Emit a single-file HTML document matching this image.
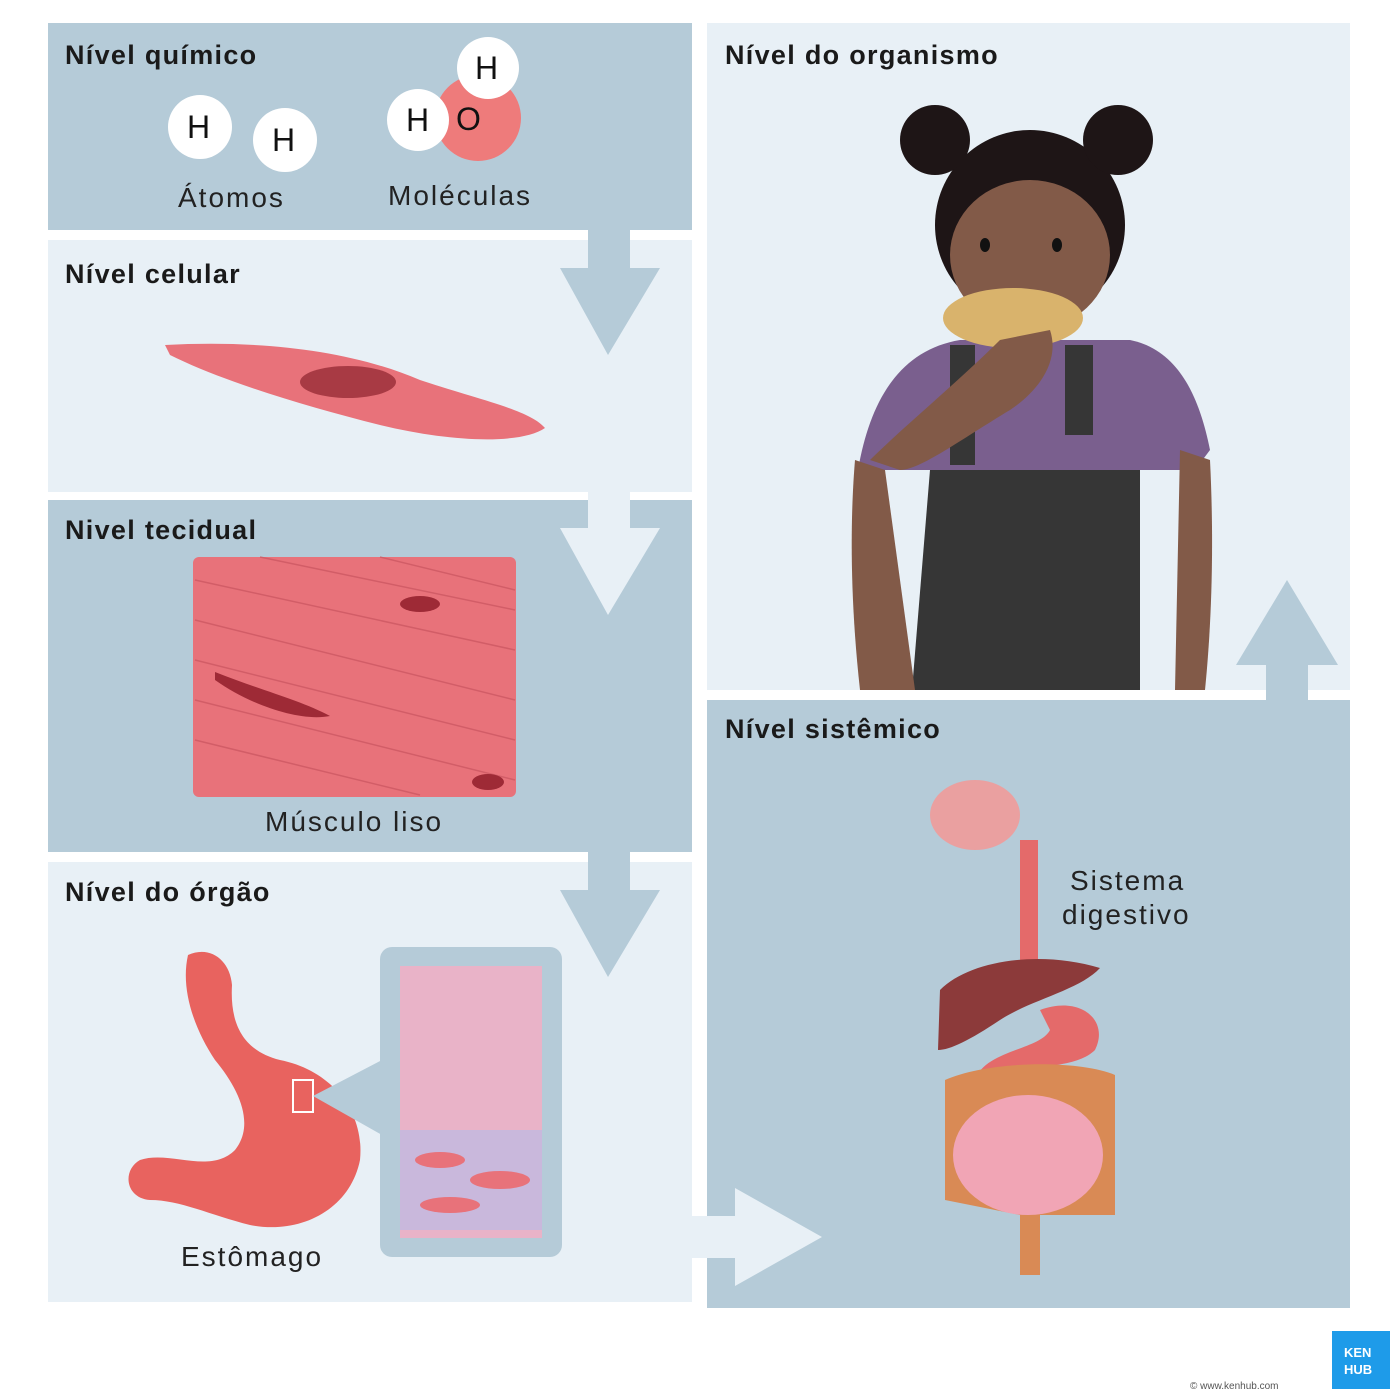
<!DOCTYPE html>
<html><head><meta charset="utf-8"><style>
body{margin:0;background:#fff;}
svg{display:block}
text{font-family:"Liberation Sans",sans-serif;}
</style></head><body>
<svg width="1400" height="1400" viewBox="0 0 1400 1400" xmlns="http://www.w3.org/2000/svg">
<rect width="1400" height="1400" fill="#fff"/>
<rect x="48" y="23" width="644" height="207" fill="#b5cbd8"/>
<rect x="48" y="240" width="644" height="252" fill="#e8f0f6"/>
<rect x="48" y="500" width="644" height="352" fill="#b5cbd8"/>
<rect x="48" y="862" width="644" height="440" fill="#e8f0f6"/>
<rect x="707" y="23" width="643" height="667" fill="#e8f0f6"/>
<rect x="707" y="700" width="643" height="608" fill="#b5cbd8"/>
<polygon points="588,230 630,230 630,268 660,268 608,355 560,268 588,268" fill="#b5cbd8"/>
<polygon points="588,492 630,492 630,528 660,528 608,615 560,528 588,528" fill="#e8f0f6"/>
<polygon points="588,852 630,852 630,890 660,890 608,977 560,890 588,890" fill="#b5cbd8"/>
<polygon points="692,1216 735,1216 735,1188 822,1237 735,1286 735,1258 692,1258" fill="#e8f0f6"/>
<polygon points="1266,700 1308,700 1308,665 1338,665 1287,580 1236,665 1266,665" fill="#b5cbd8"/>
<g font-size="27" font-weight="bold" fill="#1a1a1a" letter-spacing="1.3">
<text x="65" y="64">Nível químico</text>
<text x="65" y="283">Nível celular</text>
<text x="65" y="539">Nivel tecidual</text>
<text x="65" y="901">Nível do órgão</text>
<text x="725" y="64">Nível do organismo</text>
<text x="725" y="738">Nível sistêmico</text>
</g>
<g font-size="28" fill="#222" letter-spacing="2">
<text x="178" y="207">Átomos</text>
<text x="388" y="205">Moléculas</text>
<text x="265" y="831">Músculo liso</text>
<text x="181" y="1266">Estômago</text>
<text x="1070" y="890">Sistema</text>
<text x="1062" y="924">digestivo</text>
</g>
<circle cx="200" cy="127" r="32" fill="#fff"/>
<circle cx="285" cy="140" r="32" fill="#fff"/>
<circle cx="478" cy="118" r="43" fill="#ee7b7b"/>
<circle cx="418" cy="120" r="31" fill="#fff"/>
<circle cx="488" cy="68" r="31" fill="#fff"/>
<g font-size="32" fill="#111"><text x="187" y="138">H</text><text x="272" y="151">H</text><text x="406" y="131">H</text><text x="475" y="79">H</text><text x="456" y="130">O</text></g>
<path d="M165,345 C260,340 350,350 420,380 C480,400 530,410 545,428 C520,445 450,442 380,425 C300,405 220,380 170,355 Z" fill="#e8727a"/>
<ellipse cx="348" cy="382" rx="48" ry="16" fill="#a83a44"/>
<rect x="193" y="557" width="323" height="240" rx="6" fill="#e8727a"/>
<g stroke="#c95560" stroke-width="1.5" fill="none" opacity="0.7">
<path d="M195,580 L515,650"/><path d="M195,620 L515,700"/><path d="M195,660 L515,740"/><path d="M195,700 L515,780"/><path d="M195,740 L420,795"/><path d="M260,557 L515,610"/><path d="M380,557 L515,590"/>
</g>
<path d="M215,672 C260,690 300,700 330,716 C300,722 250,705 215,680 Z" fill="#9e2a36"/>
<ellipse cx="420" cy="604" rx="20" ry="8" fill="#9e2a36"/>
<ellipse cx="488" cy="782" rx="16" ry="8" fill="#9e2a36"/>
<path d="M188,955 C210,945 230,960 232,985 C230,1020 240,1050 280,1060 C330,1070 365,1110 360,1160 C350,1210 300,1235 250,1225 C210,1215 180,1200 150,1200 C125,1198 122,1170 140,1160 C170,1150 210,1175 235,1150 C255,1125 240,1090 215,1060 C195,1030 180,990 188,955 Z" fill="#e8635f"/>
<rect x="293" y="1080" width="20" height="32" fill="none" stroke="#fff" stroke-width="2"/>
<polygon points="313,1096 382,1060 382,1135" fill="#b5cbd8"/>
<rect x="380" y="947" width="182" height="310" rx="12" fill="#b5cbd8"/>
<rect x="400" y="966" width="142" height="272" fill="#e9b3c8"/>
<rect x="400" y="1130" width="142" height="100" fill="#c9b8dc"/>
<g fill="#e8727a"><ellipse cx="440" cy="1160" rx="25" ry="8"/><ellipse cx="500" cy="1180" rx="30" ry="9"/><ellipse cx="450" cy="1205" rx="30" ry="8"/></g>
<path d="M858,470 C870,400 900,350 960,340 L1130,340 C1180,350 1200,400 1210,450 L1195,470 L860,470 Z" fill="#7a5f8e"/>
<path d="M930,470 L1140,470 L1140,690 L912,690 Z" fill="#363636"/>
<rect x="950" y="345" width="25" height="120" fill="#363636"/>
<rect x="1065" y="345" width="28" height="90" fill="#363636"/>
<path d="M855,460 L885,470 L915,690 L860,690 C850,600 850,520 855,460 Z" fill="#825a48"/>
<path d="M1180,450 L1210,460 C1215,560 1210,640 1205,690 L1175,690 Z" fill="#825a48"/>
<ellipse cx="1030" cy="225" rx="95" ry="95" fill="#1e1516"/>
<ellipse cx="1030" cy="255" rx="80" ry="75" fill="#825a48"/>
<circle cx="935" cy="140" r="35" fill="#1e1516"/>
<circle cx="1118" cy="140" r="35" fill="#1e1516"/>
<ellipse cx="985" cy="245" rx="5" ry="7" fill="#111"/><ellipse cx="1057" cy="245" rx="5" ry="7" fill="#111"/>
<ellipse cx="1013" cy="318" rx="70" ry="30" fill="#d9b36c"/>
<path d="M870,460 C900,430 960,380 1000,340 L1050,330 C1060,360 1040,390 1010,410 C960,440 920,470 900,470 Z" fill="#825a48"/>
<ellipse cx="975" cy="815" rx="45" ry="35" fill="#eaa0a0"/>
<rect x="1020" y="840" width="18" height="130" fill="#e46a6a"/>
<path d="M940,990 C970,960 1040,950 1100,968 C1080,990 1030,1000 1000,1020 C970,1040 950,1050 938,1050 Z" fill="#8c3a3a"/>
<path d="M1040,1010 C1080,995 1110,1020 1095,1050 C1070,1075 1000,1060 990,1085 L975,1080 C985,1050 1040,1050 1050,1030 Z" fill="#e46a6a"/>
<path d="M945,1080 C990,1060 1080,1060 1115,1075 L1115,1215 L1040,1215 L1040,1275 L1020,1275 L1020,1215 L945,1200 Z" fill="#d98a55"/>
<ellipse cx="1028" cy="1155" rx="75" ry="60" fill="#f1a5b5"/>
<rect x="1332" y="1331" width="58" height="58" fill="#1e9be9"/>
<text x="1344" y="1357" font-size="13" font-weight="bold" fill="#fff">KEN</text>
<text x="1344" y="1374" font-size="13" font-weight="bold" fill="#fff">HUB</text>
<text x="1190" y="1389" font-size="10" fill="#555">© www.kenhub.com</text>
</svg>
</body></html>
